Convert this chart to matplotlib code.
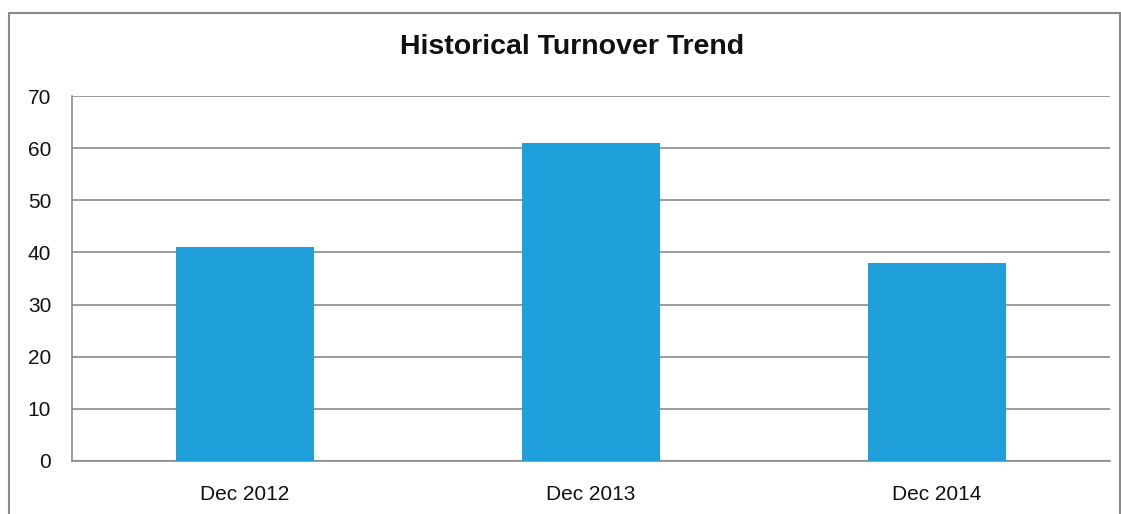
import matplotlib
matplotlib.use('Agg')
import matplotlib.pyplot as plt
from matplotlib.patches import Rectangle

# turnover per period
periods = ['Dec 2012', 'Dec 2013', 'Dec 2014']
turnover = [41, 61, 38]
yticks = [0, 10, 20, 30, 40, 50, 60, 70]

plt.rcParams['font.family'] = ['Liberation Sans', 'DejaVu Sans']

fig = plt.figure(figsize=(11.21, 5.14), dpi=100)
ax = fig.add_axes([72/1121, 53/514, (1110-72)/1121, (461-96)/514])

ax.bar(range(len(periods)), turnover, width=0.4, color='#20A0DA', zorder=3)
ax.set_xlim(-0.5, len(periods) - 0.5)
ax.set_ylim(0, 70)
ax.set_yticks(yticks)
ax.set_xticks(range(len(periods)))
ax.set_xticklabels(periods)
ax.yaxis.grid(True, color='#8a8a8a', lw=1.2, zorder=0)
ax.tick_params(length=0, labelsize=15, colors='#111111')
ax.tick_params(axis='y', pad=15)
ax.tick_params(axis='x', pad=17)
for s in ['top', 'right']:
    ax.spines[s].set_visible(False)
for s in ['left', 'bottom']:
    ax.spines[s].set_color('#8a8a8a')
    ax.spines[s].set_linewidth(1.2)

# chart frame (bottom edge falls outside the image)
fig.patches.append(Rectangle((8.5/1121, -0.1), (1120-8.5)/1121, 1.1 - 13/514,
                             transform=fig.transFigure, fill=False,
                             edgecolor='#8a8a8a', lw=1.5))

fig.text(572/1121, 1 - 47/514, 'Historical Turnover Trend', ha='center', va='center',
         fontsize=20.5, fontweight='bold', color='#111111')

fig.savefig('out.png', dpi=100)
